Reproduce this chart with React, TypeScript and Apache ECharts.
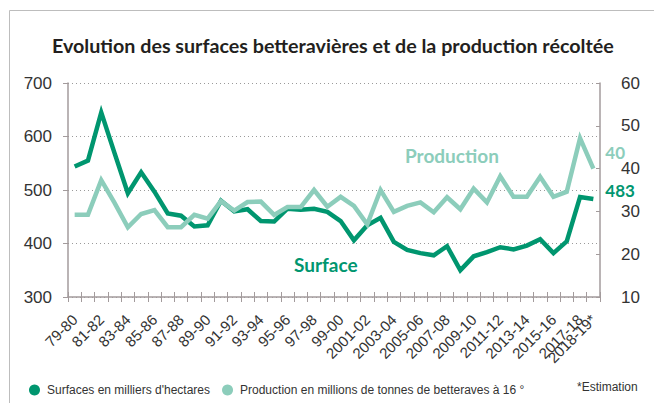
import React, { useEffect, useRef } from "react";
import * as echarts from "echarts";

const categories = [
  "79-80", "80-81", "81-82", "82-83", "83-84", "84-85", "85-86", "86-87", "87-88", "88-89",
  "89-90", "90-91", "91-92", "92-93", "93-94", "94-95", "95-96", "96-97", "97-98", "98-99",
  "99-00", "2000-01", "2001-02", "2002-03", "2003-04", "2004-05", "2005-06", "2006-07", "2007-08", "2008-09",
  "2009-10", "2010-11", "2011-12", "2012-13", "2013-14", "2014-15", "2015-16", "2016-17", "2017-18", "2018-19*",
];

// Surfaces en milliers d'hectares (left axis)
const surface = [
  544, 555, 645, 569, 494, 533, 497, 456, 452, 432,
  434, 480, 460, 464, 442, 441, 465, 463, 465, 459,
  442, 406, 434, 448, 403, 388, 382, 378, 395, 350,
  376, 384, 393, 389, 396, 408, 382, 404, 487, 483,
];

// Production en millions de tonnes (right axis)
const production = [
  29.2, 29.2, 37.3, 32.0, 26.3, 29.4, 30.3, 26.3, 26.3, 29.2,
  28.3, 32.4, 30.2, 32.2, 32.3, 29.2, 31.0, 31.0, 35.0, 31.1,
  33.4, 31.3, 27.0, 35.0, 29.9, 31.3, 32.1, 29.8, 33.3, 30.5,
  35.3, 32.1, 38.2, 33.4, 33.4, 38.1, 33.4, 34.6, 47.1, 40,
];

const leftTicks = { min: 300, max: 700, interval: 100 };
const rightTicks = { min: 10, max: 60, interval: 10 };

const surfaceName = "Surfaces en milliers d'hectares";
const productionName = "Production en millions de tonnes de betteraves à 16 °";
const titleText = "Evolution des surfaces betteravières et de la production récoltée";

const DARK = "#00966f";
const LIGHT = "#8ccdbb";
const AXIS = "#a39b9c";
const LABEL = "#333333";

const lastIndex = categories.length - 1;

export default function App() {
  const ref = useRef<HTMLDivElement>(null);
  useEffect(() => {
    if (!ref.current) return;
    const chart = echarts.init(ref.current, undefined, { renderer: "svg" });
    const labelBase = { rotate: 45, fontSize: 15, color: LABEL, margin: 20 };
    const option: any = {
      animation: false,
      backgroundColor: "#ffffff",
      textStyle: { fontFamily: "'Liberation Sans', Arial, sans-serif" },
      title: {
        text: titleText,
        left: 47,
        top: 30,
        textStyle: { fontFamily: "Lato", fontWeight: "bold", fontSize: 19.7, color: "#231f20" },
      },
      grid: { left: 68, right: 54, top: 83, bottom: 106 },
      legend: {
        left: 24,
        top: 379,
        icon: "circle",
        itemWidth: 11,
        itemHeight: 11,
        itemGap: 12,
        textStyle: { fontSize: 12, color: LABEL, padding: [0, 0, 0, 2] },
        data: [surfaceName, productionName],
      },
      xAxis: [
        {
          type: "category",
          data: categories,
          boundaryGap: true,
          axisLine: { lineStyle: { color: AXIS, width: 1.5 } },
          axisTick: { show: true, interval: 0, length: 5, lineStyle: { color: AXIS } },
          axisLabel: {
            ...labelBase,
            interval: (i: number) => i % 2 === 0 && i !== lastIndex,
          },
        },
        {
          type: "category",
          data: categories,
          position: "bottom",
          boundaryGap: true,
          axisLine: { show: false },
          axisTick: { show: true, inside: true, interval: 0, length: 5, lineStyle: { color: AXIS } },
          axisLabel: {
            ...labelBase,
            interval: (i: number) => i === lastIndex,
          },
          splitLine: { show: false },
        },
      ],
      yAxis: [
        {
          type: "value",
          position: "left",
          ...leftTicks,
          axisLine: { show: true, lineStyle: { color: AXIS, width: 1.5 } },
          axisTick: { show: true, length: 5, lineStyle: { color: AXIS } },
          axisLabel: { fontSize: 17, color: LABEL, margin: 16 },
          splitLine: { show: true, lineStyle: { type: [1, 3], color: "#9a9a9a", width: 1 } },
        },
        {
          type: "value",
          position: "right",
          ...rightTicks,
          axisLine: { show: true, lineStyle: { color: AXIS, width: 1.5 } },
          axisTick: { show: true, inside: true, length: 4, lineStyle: { color: AXIS } },
          axisLabel: { fontSize: 17, color: LABEL, margin: 21 },
          splitLine: { show: false },
        },
      ],
      series: [
        {
          name: surfaceName,
          type: "line",
          yAxisIndex: 0,
          data: surface,
          showSymbol: false,
          symbol: "none",
          color: DARK,
          lineStyle: { width: 4.5, color: DARK, join: "miter" },
          endLabel: {
            show: true,
            formatter: (p: any) => String(p.value),
            offset: [4, -9],
            fontFamily: "Lato",
            fontWeight: "bold",
            fontSize: 17,
            color: DARK,
          },
        },
        {
          name: productionName,
          type: "line",
          yAxisIndex: 1,
          data: production,
          showSymbol: false,
          symbol: "none",
          color: LIGHT,
          lineStyle: { width: 4.5, color: LIGHT, join: "miter" },
          endLabel: {
            show: true,
            formatter: (p: any) => String(p.value),
            offset: [4, -16],
            fontFamily: "Lato",
            fontWeight: "bold",
            fontSize: 17,
            color: LIGHT,
          },
        },
      ],
      graphic: [
        { type: "line", shape: { x1: 9.5, y1: 10.5, x2: 654, y2: 10.5 }, style: { stroke: "#bdbdbd", lineWidth: 1 } },
        { type: "line", shape: { x1: 9.5, y1: 10.5, x2: 9.5, y2: 403 }, style: { stroke: "#bdbdbd", lineWidth: 1 } },
        {
          type: "text",
          x: 405,
          y: 155,
          style: { text: "Production", fill: LIGHT, font: "bold 19px Lato", verticalAlign: "middle" },
        },
        {
          type: "text",
          x: 294,
          y: 264,
          style: { text: "Surface", fill: DARK, font: "bold 19px Lato", verticalAlign: "middle" },
        },
        {
          type: "text",
          x: 577,
          y: 387,
          style: { text: "*Estimation", fill: LABEL, font: "12px 'Liberation Sans', Arial, sans-serif", verticalAlign: "middle" },
        },
      ],
    };
    chart.setOption(option);
    return () => chart.dispose();
  }, []);
  return (
    <div
      ref={ref}
      style={{ position: "absolute", left: 0, top: 0, width: 654, height: 403, background: "#fff" }}
    />
  );
}
